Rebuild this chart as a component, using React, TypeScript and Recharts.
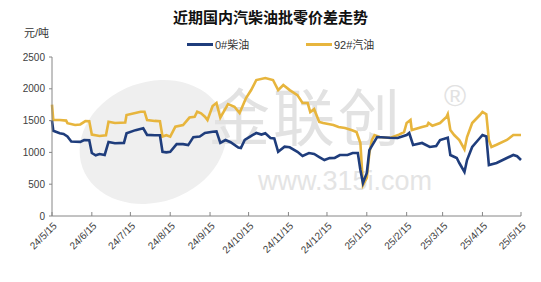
import React from "react";
import { Line, LineChart, XAxis, YAxis } from "recharts";

// 0#柴油 (diesel) wholesale-retail spread, yuan/ton
const dieselDates = [
  "2024-05-15", "2024-05-16", "2024-05-21", "2024-05-24", "2024-05-27", "2024-05-30", "2024-06-06", "2024-06-09",
  "2024-06-13", "2024-06-15", "2024-06-18", "2024-06-21", "2024-06-25", "2024-06-28", "2024-07-03", "2024-07-10",
  "2024-07-12", "2024-07-19", "2024-07-25", "2024-07-28", "2024-08-03", "2024-08-07", "2024-08-09", "2024-08-12",
  "2024-08-15", "2024-08-20", "2024-08-25", "2024-08-29", "2024-09-02", "2024-09-07", "2024-09-11", "2024-09-17",
  "2024-09-20", "2024-09-23", "2024-09-27", "2024-10-01", "2024-10-07", "2024-10-09", "2024-10-12", "2024-10-18",
  "2024-10-21", "2024-10-25", "2024-10-28", "2024-11-01", "2024-11-04", "2024-11-07", "2024-11-12", "2024-11-16",
  "2024-11-22", "2024-11-26", "2024-12-01", "2024-12-05", "2024-12-09", "2024-12-13", "2024-12-17", "2024-12-21",
  "2024-12-25", "2024-12-31", "2025-01-04", "2025-01-08", "2025-01-10", "2025-01-12", "2025-01-15", "2025-01-17",
  "2025-01-23", "2025-02-02", "2025-02-08", "2025-02-15", "2025-02-17", "2025-02-20", "2025-02-27", "2025-03-05",
  "2025-03-10", "2025-03-13", "2025-03-19", "2025-03-21", "2025-03-26", "2025-03-28", "2025-04-01", "2025-04-03",
  "2025-04-07", "2025-04-13", "2025-04-15", "2025-04-18", "2025-04-20", "2025-04-26", "2025-05-04", "2025-05-09",
  "2025-05-12", "2025-05-15",
];
const dieselValues = [
  1500, 1340, 1300, 1290, 1250, 1170, 1165, 1195,
  1190, 990, 955, 975, 960, 1165, 1145, 1150,
  1300, 1350, 1380, 1275, 1270, 1270, 1010, 1000,
  1010, 1130, 1130, 1115, 1240, 1250, 1305, 1325,
  1330, 1150, 1195, 1160, 1077, 1070, 1195, 1273,
  1305, 1280, 1300, 1226, 1220, 1010, 1090, 1080,
  1010, 943, 990, 975, 927, 880, 910, 912,
  959, 959, 990, 990, 723, 519, 676, 1037,
  1242, 1230, 1226, 1273, 1305, 1116, 1148, 1085,
  1100, 1195, 1230, 959, 912, 833, 692, 880,
  1085, 1226, 1273, 1250, 802, 833, 912, 959,
  940, 880,
];

// 92#汽油 (gasoline) wholesale-retail spread, yuan/ton
const gasolineDates = [
  "2024-05-15", "2024-05-16", "2024-05-21", "2024-05-26", "2024-05-27", "2024-06-02", "2024-06-06", "2024-06-10",
  "2024-06-13", "2024-06-15", "2024-06-21", "2024-06-26", "2024-06-28", "2024-07-03", "2024-07-11", "2024-07-12",
  "2024-07-23", "2024-07-26", "2024-07-28", "2024-08-03", "2024-08-07", "2024-08-09", "2024-08-12", "2024-08-15",
  "2024-08-19", "2024-08-25", "2024-08-30", "2024-09-03", "2024-09-05", "2024-09-08", "2024-09-11", "2024-09-13",
  "2024-09-17", "2024-09-20", "2024-09-23", "2024-09-29", "2024-10-04", "2024-10-08", "2024-10-13", "2024-10-17",
  "2024-10-21", "2024-10-28", "2024-11-03", "2024-11-07", "2024-11-11", "2024-11-16", "2024-11-22", "2024-11-26",
  "2024-11-30", "2024-12-02", "2024-12-05", "2024-12-09", "2024-12-12", "2024-12-16", "2024-12-20", "2024-12-24",
  "2024-12-29", "2025-01-03", "2025-01-07", "2025-01-10", "2025-01-12", "2025-01-15", "2025-01-17", "2025-01-19",
  "2025-01-21", "2025-01-25", "2025-02-02", "2025-02-09", "2025-02-13", "2025-02-15", "2025-02-18", "2025-02-19",
  "2025-02-27", "2025-03-03", "2025-03-04", "2025-03-07", "2025-03-13", "2025-03-18", "2025-03-19", "2025-03-21",
  "2025-03-24", "2025-03-28", "2025-04-01", "2025-04-03", "2025-04-07", "2025-04-13", "2025-04-15", "2025-04-18",
  "2025-04-20", "2025-04-22", "2025-04-26", "2025-05-04", "2025-05-09", "2025-05-15",
];
const gasolineValues = [
  1750, 1510, 1509, 1500, 1460, 1430, 1440, 1493,
  1490, 1280, 1258, 1270, 1482, 1462, 1470, 1588,
  1640, 1640, 1509, 1495, 1490, 1250, 1270, 1247,
  1404, 1430, 1548, 1561, 1640, 1614, 1561, 1509,
  1730, 1776, 1548, 1760, 1718, 1619, 1855, 1980,
  2138, 2170, 2138, 1980, 2060, 1980, 1900, 1776,
  1776, 1635, 1680, 1478, 1462, 1446, 1430, 1400,
  1383, 1352, 1320, 1148, 487, 600, 990, 1195,
  1273, 1242, 1226, 1280, 1320, 1462, 1509, 1352,
  1399, 1420, 1462, 1420, 1462, 1556, 1600, 1352,
  1273, 1195, 1050, 1242, 1462, 1588, 1635, 1600,
  1195, 1085, 1120, 1195, 1273, 1273,
];

const xTickDates = [
  "2024-05-15", "2024-06-15", "2024-07-15", "2024-08-15", "2024-09-15", "2024-10-15", "2024-11-15",
  "2024-12-15", "2025-01-15", "2025-02-15", "2025-03-15", "2025-04-15", "2025-05-15",
];
const yTicks = [0, 500, 1000, 1500, 2000, 2500];

const toTime = (s: string) => {
  const [y, m, d] = s.split("-").map(Number);
  return Date.UTC(y, m - 1, d);
};

const dieselData = dieselDates.map((d, i) => ({ t: toTime(d), value: dieselValues[i] }));
const gasolineData = gasolineDates.map((d, i) => ({ t: toTime(d), value: gasolineValues[i] }));
const xTicks = xTickDates.map(toTime);

const BLUE = "#1f3d7c";
const GOLD = "#e7b53d";
const FONT = "'Liberation Sans', 'Noto Sans CJK SC', sans-serif";

const formatDate = (t: number) => {
  const d = new Date(t);
  return `${d.getUTCFullYear() % 100}/${d.getUTCMonth() + 1}/${d.getUTCDate()}`;
};

const DateTick = (props: any) => {
  const { x, y, payload } = props;
  return (
    <g transform={`translate(${x},${y})`}>
      <line x1={0} y1={0} x2={0} y2={-4} stroke="#868686" />
      <text
        x={3}
        y={8}
        transform="rotate(-45 3 8)"
        textAnchor="end"
        dominantBaseline="central"
        fontSize={10}
        fill="#404040"
        fontFamily={FONT}
      >
        {formatDate(payload.value)}
      </text>
    </g>
  );
};

export default function App() {
  return (
    <div
      style={{
        position: "absolute",
        left: 0,
        top: 0,
        width: 541,
        height: 282,
        background: "#fff",
        fontFamily: FONT,
        overflow: "hidden",
      }}
    >
      {/* watermark */}
      <div
        style={{
          position: "absolute",
          left: 78,
          top: 82,
          width: 150,
          height: 120,
          borderRadius: "50%",
          background: "#efefef",
          transform: "rotate(-20deg)",
        }}
      />
      <div style={{ position: "absolute", left: 208, top: 84, fontSize: 62, lineHeight: "72px", color: "#e2e2e2", letterSpacing: 3 }}>
        金联创
      </div>
      <div style={{ position: "absolute", left: 444, top: 78, fontSize: 30, lineHeight: "36px", color: "#e2e2e2" }}>®</div>
      <div style={{ position: "absolute", left: 258, top: 166, fontSize: 27, lineHeight: "30px", color: "#e4e4e4" }}>
        www.315i.com
      </div>

      <div
        style={{
          position: "absolute",
          left: 0,
          width: 541,
          top: 6,
          textAlign: "center",
          fontSize: 15,
          fontWeight: "bold",
          color: "#111",
        }}
      >
        近期国内汽柴油批零价差走势
      </div>
      <div style={{ position: "absolute", left: 24, top: 24, fontSize: 11, color: "#333" }}>元/吨</div>

      <div style={{ position: "absolute", left: 187, top: 36, display: "flex", alignItems: "center", fontSize: 11, color: "#333" }}>
        <span style={{ display: "inline-block", width: 26, height: 3, background: BLUE, marginRight: 2 }} />
        0#柴油
      </div>
      <div style={{ position: "absolute", left: 306, top: 36, display: "flex", alignItems: "center", fontSize: 11, color: "#333" }}>
        <span style={{ display: "inline-block", width: 26, height: 3, background: GOLD, marginRight: 2 }} />
        92#汽油
      </div>

      <div style={{ position: "absolute", left: 0, top: 0 }}>
        <LineChart width={541} height={282} margin={{ top: 57, right: 20, bottom: 0, left: 0 }}>
          <XAxis
            dataKey="t"
            type="number"
            domain={[xTicks[0], xTicks[xTicks.length - 1]]}
            ticks={xTicks}
            allowDuplicatedCategory={false}
            height={66}
            stroke="#868686"
            tickLine={false}
            tickSize={0}
            tickMargin={0}
            tick={<DateTick />}
            interval={0}
          />
          <YAxis
            domain={[0, 2500]}
            ticks={yTicks}
            width={52}
            stroke="#868686"
            tickSize={3}
            tickMargin={4}
            tick={{ fontSize: 10, fill: "#404040", fontFamily: FONT }}
          />
          <Line
            data={gasolineData}
            dataKey="value"
            type="linear"
            stroke={GOLD}
            strokeWidth={2.6}
            dot={false}
            isAnimationActive={false}
          />
          <Line
            data={dieselData}
            dataKey="value"
            type="linear"
            stroke={BLUE}
            strokeWidth={2.6}
            dot={false}
            isAnimationActive={false}
          />
        </LineChart>
      </div>
    </div>
  );
}
